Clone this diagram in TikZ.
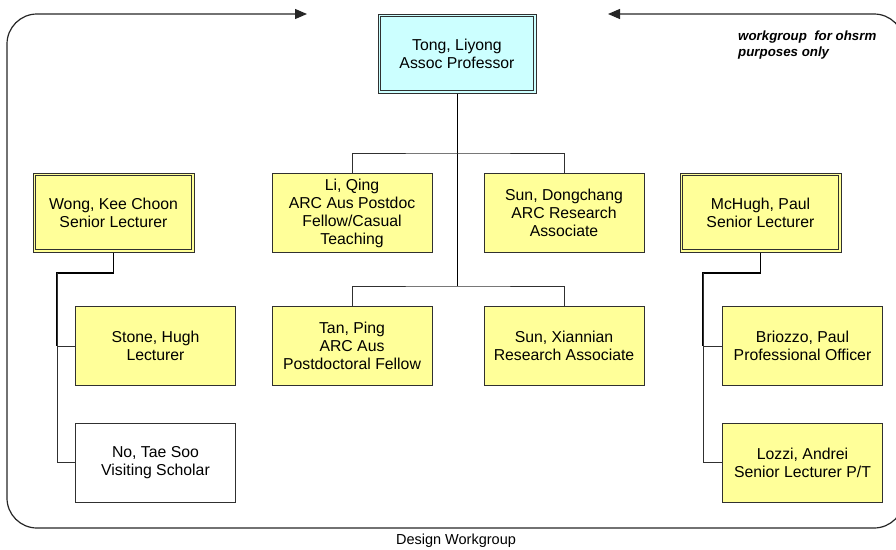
\documentclass[tikz,border=0pt]{standalone}
\usepackage{fontspec}
\setmainfont{Liberation Sans}
\usetikzlibrary{arrows.meta}
\definecolor{cardyellow}{HTML}{FFFF99}
\definecolor{cardcyan}{HTML}{CCFFFF}
\definecolor{edgegray}{HTML}{303030}
\begin{document}
\begin{tikzpicture}[x=1pt,y=-1pt,
  card/.style={draw=edgegray, line width=1pt, fill=cardyellow, align=center,
    font=\fontsize{15.8}{18}\selectfont, inner sep=0pt,
    minimum width=160pt, minimum height=79pt},
  plaincard/.style={card, fill=white},
  leadcard/.style={card, minimum width=161pt},
  topcard/.style={card, fill=cardcyan, minimum width=158pt},
  innerline/.style={draw=edgegray, line width=1pt},
  trunk/.style={draw=black, line width=1.8pt},
  tee/.style={draw=black, line width=1.6pt},
  conn/.style={draw=edgegray, line width=1pt},
  frame/.style={draw=black!85, line width=1.2pt, rounded corners=30pt},
  note/.style={font=\fontsize{13.3}{16}\selectfont\bfseries\itshape, align=left, inner sep=0pt, anchor=north west}
]
\useasboundingbox (0,0) rectangle (896,549);

% surrounding workgroup boundary with the two inward arrows
\coordinate (frameA) at (307,14);
\coordinate (frameB) at (608,14);
\draw[frame, {Triangle[length=12pt,width=10pt]}-{Triangle[length=12pt,width=10pt]}]
  (frameA) -- (7,14) -- (7,528) -- (904,528) -- (904,14) -- (frameB);

% head of the workgroup
\node[topcard] (tong) at (457,53.5) {Tong, Liyong\\Assoc Professor};

% central staff
\node[card] (li)   at (352,213) {Li, Qing\\ARC Aus Postdoc\\Fellow/Casual\\Teaching};
\node[card] (sund) at (564,213) {Sun, Dongchang\\ARC Research\\Associate};
\node[card] (tan)  at (352,346) {Tan, Ping\\ARC Aus\\Postdoctoral Fellow};
\node[card] (sunx) at (564,346) {Sun, Xiannian\\Research Associate};

% left group
\node[leadcard] (wong)  at (113.5,212.5) {Wong, Kee Choon\\Senior Lecturer};
\node[card]     (stone) at (155.5,346)   {Stone, Hugh\\Lecturer};
\node[plaincard] (no)   at (155.5,462.5) {No, Tae Soo\\Visiting Scholar};

% right group
\node[leadcard] (mchugh)  at (760.5,212.5) {McHugh, Paul\\Senior Lecturer};
\node[card]     (briozzo) at (802.5,346)   {Briozzo, Paul\\Professional Officer};
\node[card]     (lozzi)   at (802.5,462.5) {Lozzi, Andrei\\Senior Lecturer P/T};

% second outline inside the lead cards
\foreach \n in {tong,wong,mchugh}
  \draw[innerline] ([shift={(3,3)}]\n.north west) rectangle ([shift={(-3,-3)}]\n.south east);

% junction points
\coordinate (j1) at (457.5,153);
\coordinate (j2) at (457.5,286);
\coordinate (wl) at (57,273);
\coordinate (ml) at (703,273);

% central tree
\draw[trunk] (tong.south -| j1) -- (j2);
\draw[conn] (li.north) |- (j1) -| (sund.north);
\draw[conn] (tan.north) |- (j2) -| (sunx.north);

% left tree
\draw[tee] (wong.south) |- (wl) -- (wl |- stone.west);
\draw[conn] (wl) |- (stone.west);
\draw[conn] (wl) |- (no.west);

% right tree
\draw[tee] (mchugh.south) |- (ml) -- (ml |- briozzo.west);
\draw[conn] (ml) |- (briozzo.west);
\draw[conn] (ml) |- (lozzi.west);

% annotations
\node[note] (remark) at (738,31) {workgroup\ \ for ohsrm\\purposes only};
\node[font=\fontsize{14.5}{17}\selectfont, anchor=base, inner sep=0pt] (caption) at (456,544) {Design Workgroup};
\end{tikzpicture}
\end{document}
